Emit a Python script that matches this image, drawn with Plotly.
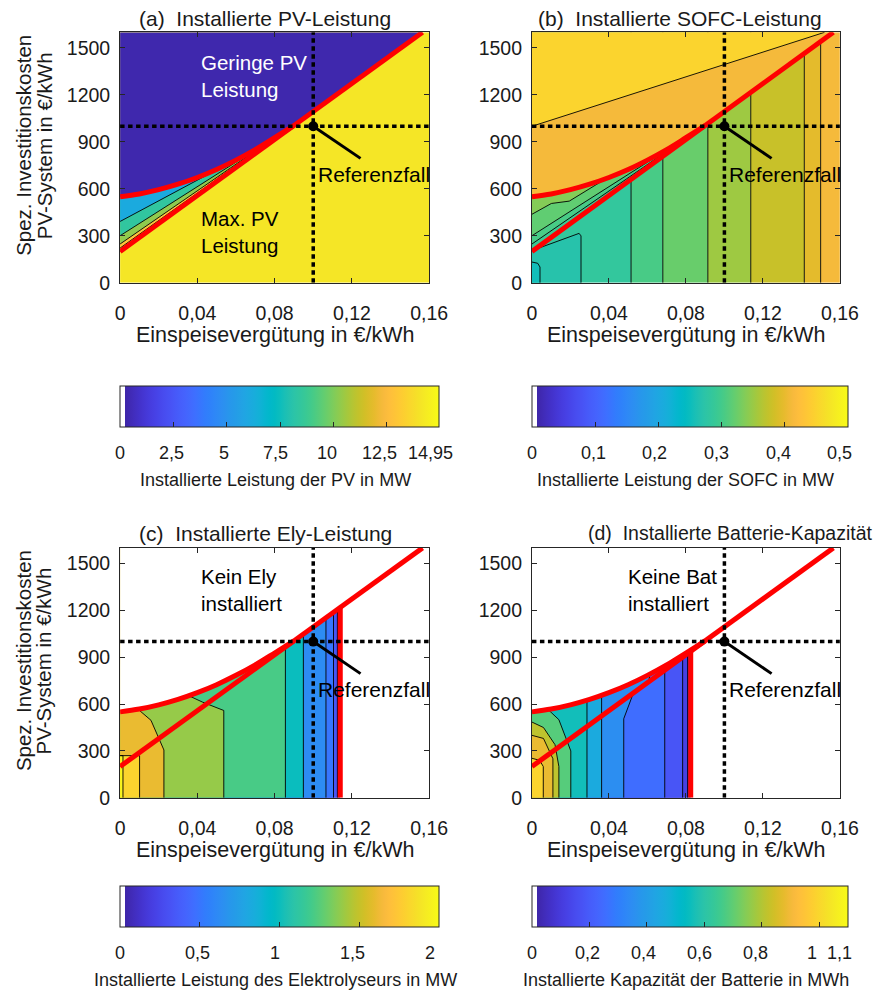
import plotly.graph_objects as go
from plotly.colors import sample_colorscale

W, H = 880, 997
FONT = "Liberation Sans, Arial, sans-serif"
TXT = "#1a1a1a"

# ---------------- data ----------------
X_RANGE = [0, 0.16]
Y_RANGE = [0, 1600]
x_ticks = [0, 0.04, 0.08, 0.12, 0.16]
x_ticktext = ["0", "0,04", "0,08", "0,12", "0,16"]
y_ticks = [0, 300, 600, 900, 1200, 1500]

# red boundary curves
upper_curve_x = [0, 0.01, 0.02, 0.03, 0.04, 0.05, 0.06, 0.07, 0.08, 0.09]
upper_curve_y = [550, 568, 595, 630, 673, 724, 784, 851, 927, 1005]
red_line_x = [0, 0.1566]
red_line_y = [200, 1600]

# reference case
ref_x, ref_y = 0.1, 1000
ref_arrow_x = [0.1, 0.1245]
ref_arrow_y = [1000, 795]

# (a) installed PV power, 0 ... 14.95 MW
pv_max = 14.95
pv_ticks = [0, 2.5, 5, 7.5, 10, 12.5, 14.95]
pv_ticktext = ["0", "2,5", "5", "7,5", "10", "12,5", "14,95"]
pv_high_value = 14.1
pv_low_value = 0.1
pv_wedge_x = [[0, 0.080], [0, 0.079], [0, 0.077], [0, 0.072]]
pv_wedge_y = [[222, 925], [248, 919], [301, 904], [392, 867]]
pv_wedge_values = [12.7, 10.2, 8.3, 6.0]

# (b) installed SOFC power, 0 ... 0.5 MW
sofc_max = 0.5
sofc_ticks = [0, 0.1, 0.2, 0.3, 0.4, 0.5]
sofc_ticktext = ["0", "0,1", "0,2", "0,3", "0,4", "0,5"]
sofc_band_edges = [0, 0.0515, 0.068, 0.0914, 0.1137, 0.1415, 0.150, 0.16]
sofc_band_values = [0.28, 0.30, 0.32, 0.35, 0.375, 0.395, 0.41]
sofc_teal_x = [0, 0.0255, 0.0255, 0.0245, 0]
sofc_teal_y = [0, 0, 300, 316, 206]
sofc_teal_value = 0.265
sofc_corner_x = [0, 0.0042, 0.0042, 0.003, 0]
sofc_corner_y = [0, 0, 101, 125, 133]
sofc_corner_value = 0.25
sofc_wedge_base_value = 0.29
sofc_wedge_x = [[0, 0.072], [0, 0.075], [0, 0.0101, 0.0194, 0.0387]]
sofc_wedge_y = [[248, 857], [301, 888], [438, 507, 522, 667]]
sofc_wedge_values = [0.30, 0.315, 0.335]
sofc_mid_value = 0.41
sofc_top_line_x = [0, 0.149, 0.152]
sofc_top_line_y = [1000, 1586, 1600]
sofc_top_value = 0.45

# (c) installed electrolyser power, 0 ... 2 MW
ely_max = 2.0
ely_ticks = [0, 0.5, 1, 1.5, 2]
ely_ticktext = ["0", "0,5", "1", "1,5", "2"]
ely_limit_x = 0.114
ely_limit_top = 1220
ely_base_value = 0.1
ely_contour_x = [[0.1125, 0.1125], [0.1105, 0.1105], [0.1066, 0.1066],
                 [0.0949, 0.0949], [0.0856, 0.0856],
                 [0.0353, 0.0428, 0.0537, 0.0537],
                 [0.0093, 0.016, 0.0227, 0.0227],
                 [0, 0.0101, 0.0101], [0, 0.0015, 0.0015]]
ely_contour_y = [[1600, 0], [1600, 0], [1600, 0], [1600, 0], [1600, 0],
                 [655, 612, 559, 0], [567, 496, 306, 0],
                 [270, 270, 0], [270, 270, 0]]
ely_contour_values = [0.3, 0.48, 0.6, 0.98, 1.2, 1.38, 1.6, 1.8, 1.97]

# (d) installed battery capacity, 0 ... 1.1 MWh
bat_max = 1.1
bat_ticks = [0, 0.2, 0.4, 0.6, 0.8, 1.0, 1.1]
bat_ticktext = ["0", "0,2", "0,4", "0,6", "0,8", "1", "1,1"]
bat_limit_x = 0.0825
bat_limit_top = 948
bat_base_value = 0.06
bat_contour_x = [[0.0809, 0.0809], [0.0783, 0.0783], [0.069, 0.069],
                 [0.066, 0.0615, 0.0606, 0.0522, 0.0477, 0.0477],
                 [0.0362, 0.0362], [0.0286, 0.0286],
                 [0.0084, 0.014, 0.0202, 0.0202],
                 [0, 0.006, 0.012, 0.014, 0.014],
                 [0, 0.006, 0.0109, 0.0109],
                 [0, 0.004, 0.0059, 0.0059]]
bat_contour_y = [[1600, 0], [1600, 0], [1600, 0],
                 [823, 802, 739, 654, 506, 0],
                 [1600, 0], [1600, 0],
                 [565, 500, 300, 0],
                 [485, 450, 340, 200, 0],
                 [400, 380, 250, 0],
                 [253, 240, 200, 0]]
bat_contour_values = [0.10, 0.165, 0.24, 0.34, 0.44, 0.55, 0.68, 0.81, 0.88, 0.99]

# ---------------- colour map (MATLAB parula) ----------------
PARULA = [
    (0.2422, 0.1504, 0.6603), (0.2504, 0.1650, 0.7076), (0.2578, 0.1818, 0.7511), (0.2647, 0.1978, 0.7952),
    (0.2706, 0.2147, 0.8364), (0.2751, 0.2342, 0.8710), (0.2783, 0.2559, 0.8991), (0.2803, 0.2782, 0.9221),
    (0.2813, 0.3006, 0.9414), (0.2810, 0.3228, 0.9579), (0.2795, 0.3447, 0.9717), (0.2760, 0.3667, 0.9829),
    (0.2699, 0.3892, 0.9906), (0.2602, 0.4123, 0.9952), (0.2440, 0.4358, 0.9988), (0.2206, 0.4603, 0.9973),
    (0.1963, 0.4847, 0.9892), (0.1834, 0.5074, 0.9798), (0.1786, 0.5289, 0.9682), (0.1764, 0.5499, 0.9520),
    (0.1687, 0.5703, 0.9359), (0.1540, 0.5902, 0.9218), (0.1460, 0.6091, 0.9079), (0.1380, 0.6276, 0.8973),
    (0.1248, 0.6459, 0.8883), (0.1113, 0.6635, 0.8763), (0.0952, 0.6798, 0.8598), (0.0689, 0.6948, 0.8394),
    (0.0297, 0.7082, 0.8163), (0.0036, 0.7203, 0.7917), (0.0067, 0.7312, 0.7660), (0.0433, 0.7411, 0.7394),
    (0.0964, 0.7500, 0.7120), (0.1408, 0.7584, 0.6842), (0.1717, 0.7670, 0.6554), (0.1938, 0.7758, 0.6251),
    (0.2161, 0.7843, 0.5923), (0.2470, 0.7918, 0.5567), (0.2906, 0.7973, 0.5188), (0.3406, 0.8008, 0.4789),
    (0.3909, 0.8029, 0.4354), (0.4456, 0.8024, 0.3909), (0.5044, 0.7993, 0.3480), (0.5616, 0.7942, 0.3045),
    (0.6174, 0.7876, 0.2612), (0.6720, 0.7793, 0.2227), (0.7242, 0.7698, 0.1910), (0.7738, 0.7598, 0.1646),
    (0.8203, 0.7498, 0.1535), (0.8634, 0.7406, 0.1596), (0.9035, 0.7330, 0.1774), (0.9393, 0.7288, 0.2100),
    (0.9728, 0.7298, 0.2394), (0.9956, 0.7434, 0.2371), (0.9970, 0.7659, 0.2199), (0.9952, 0.7893, 0.2028),
    (0.9892, 0.8136, 0.1885), (0.9786, 0.8386, 0.1766), (0.9676, 0.8639, 0.1643), (0.9610, 0.8890, 0.1537),
    (0.9597, 0.9135, 0.1423), (0.9628, 0.9373, 0.1265), (0.9691, 0.9606, 0.1064), (0.9769, 0.9839, 0.0805)]
PARULA_CS = [[i / 63, "rgb(%d,%d,%d)" % (round(r * 255), round(g * 255), round(b * 255))]
             for i, (r, g, b) in enumerate(PARULA)]
WHITE_GAP = 0.016
BAR_CS = [[0, "rgb(255,255,255)"], [WHITE_GAP, "rgb(255,255,255)"]] + \
         [[WHITE_GAP + p * (1 - WHITE_GAP), c] for p, c in PARULA_CS]


def cmap(v, vmax):
    return sample_colorscale(PARULA_CS, [min(max(v / vmax, 0), 1)])[0]


# ---------------- layout geometry (pixels) ----------------
FRAMES = {"a": (118.3, 436, 32.7, 286), "b": (541.7, 858.3, 32.7, 286),
          "c": (118.3, 436, 554, 806.7), "d": (541.7, 858.3, 554, 806.7)}
BARS = {"a": (118.3, 437, 390, 431), "b": (541.7, 858, 390, 431),
        "c": (118.3, 437, 896, 937), "d": (541.7, 858, 896, 937)}
AX = {"a": ("x", "y"), "b": ("x2", "y2"), "c": ("x3", "y3"), "d": ("x4", "y4")}
RED = "#ff0000"

fig = go.Figure()


def poly(k, xs, ys, color):
    xa, ya = AX[k]
    fig.add_trace(go.Scatter(x=list(xs) + [xs[0]], y=list(ys) + [ys[0]], mode="none",
                             fill="toself", fillcolor=color, xaxis=xa, yaxis=ya,
                             hoverinfo="skip", showlegend=False))


def cline(k, xs, ys, width=0.9, color="#000000", dash="solid", shape="linear"):
    xa, ya = AX[k]
    fig.add_trace(go.Scatter(x=xs, y=ys, mode="lines",
                             line=dict(color=color, width=width, dash=dash, shape=shape),
                             xaxis=xa, yaxis=ya, hoverinfo="skip", showlegend=False))


def left_region(k, xs, ys, color):
    px, py = list(xs), list(ys)
    if xs[0] > 0:
        px = [xs[0]] + px + [0, 0]
        py = [Y_RANGE[1]] + py + [0, Y_RANGE[1]]
    else:
        px = px + [0]
        py = py + [0]
    poly(k, px, py, color)


def wedge(k, lx, ly, color):
    cx = [x for x in upper_curve_x if x < lx[-1]]
    cy = upper_curve_y[:len(cx)]
    poly(k, list(lx) + cx[::-1], list(ly) + cy[::-1], color)


def above_envelope(k, color):
    poly(k, upper_curve_x + [red_line_x[-1], 0],
         upper_curve_y + [red_line_y[-1], Y_RANGE[1]], color)


def red_bounds(k, limit=None):
    cline(k, red_line_x, red_line_y, 5, RED)
    cline(k, upper_curve_x, upper_curve_y, 5, RED, shape="spline")
    if limit:
        cline(k, [limit[0], limit[0]], [0, limit[1]], 5, RED)


def overlay(k):
    cline(k, [ref_x, ref_x], Y_RANGE, 3.5, "#000000", dash="4.5px,3.5px")
    cline(k, X_RANGE, [ref_y, ref_y], 3.5, "#000000", dash="4.5px,3.5px")
    cline(k, ref_arrow_x, ref_arrow_y, 3, "#000000")
    xa, ya = AX[k]
    fig.add_trace(go.Scatter(x=[ref_x], y=[ref_y], mode="markers",
                             marker=dict(color="#000000", size=10), xaxis=xa, yaxis=ya,
                             hoverinfo="skip", showlegend=False))


# ---------- (a) PV ----------
poly("a", [X_RANGE[0], X_RANGE[1], X_RANGE[1], X_RANGE[0]],
     [Y_RANGE[0], Y_RANGE[0], Y_RANGE[1], Y_RANGE[1]], cmap(pv_high_value, pv_max))
for lx, ly, v in zip(pv_wedge_x, pv_wedge_y, pv_wedge_values):
    wedge("a", lx, ly, cmap(v, pv_max))
for lx, ly in zip(pv_wedge_x, pv_wedge_y):
    cline("a", lx, ly)
above_envelope("a", cmap(pv_low_value, pv_max))
red_bounds("a")
overlay("a")

# ---------- (b) SOFC ----------
for i, v in enumerate(sofc_band_values):
    x0, x1 = sofc_band_edges[i], sofc_band_edges[i + 1]
    poly("b", [x0, x1, x1, x0], [0, 0, Y_RANGE[1], Y_RANGE[1]], cmap(v, sofc_max))
poly("b", sofc_teal_x, sofc_teal_y, cmap(sofc_teal_value, sofc_max))
poly("b", sofc_corner_x, sofc_corner_y, cmap(sofc_corner_value, sofc_max))
for e in sofc_band_edges[1:-1]:
    cline("b", [e, e], Y_RANGE)
cline("b", sofc_teal_x[1:], sofc_teal_y[1:])
cline("b", sofc_corner_x[1:], sofc_corner_y[1:])
poly("b", upper_curve_x + [red_line_x[0]], upper_curve_y + [red_line_y[0]],
     cmap(sofc_wedge_base_value, sofc_max))
for lx, ly, v in zip(sofc_wedge_x, sofc_wedge_y, sofc_wedge_values):
    wedge("b", lx, ly, cmap(v, sofc_max))
for lx, ly in zip(sofc_wedge_x, sofc_wedge_y):
    cline("b", lx, ly)
above_envelope("b", cmap(sofc_mid_value, sofc_max))
poly("b", sofc_top_line_x + [0], sofc_top_line_y + [Y_RANGE[1]], cmap(sofc_top_value, sofc_max))
cline("b", sofc_top_line_x, sofc_top_line_y)
red_bounds("b")
overlay("b")

# ---------- (c) Electrolyser ----------
poly("c", [0, ely_limit_x, ely_limit_x, 0], [0, 0, Y_RANGE[1], Y_RANGE[1]],
     cmap(ely_base_value, ely_max))
for lx, ly, v in zip(ely_contour_x, ely_contour_y, ely_contour_values):
    left_region("c", lx, ly, cmap(v, ely_max))
for lx, ly in zip(ely_contour_x, ely_contour_y):
    cline("c", lx, ly)
above_envelope("c", "#ffffff")
poly("c", [ely_limit_x, X_RANGE[1], X_RANGE[1], ely_limit_x], [0, 0, Y_RANGE[1], Y_RANGE[1]], "#ffffff")
red_bounds("c", (ely_limit_x, ely_limit_top))
overlay("c")

# ---------- (d) Battery ----------
poly("d", [0, bat_limit_x, bat_limit_x, 0], [0, 0, Y_RANGE[1], Y_RANGE[1]],
     cmap(bat_base_value, bat_max))
for lx, ly, v in zip(bat_contour_x, bat_contour_y, bat_contour_values):
    left_region("d", lx, ly, cmap(v, bat_max))
for lx, ly in zip(bat_contour_x, bat_contour_y):
    cline("d", lx, ly)
above_envelope("d", "#ffffff")
poly("d", [bat_limit_x, X_RANGE[1], X_RANGE[1], bat_limit_x], [0, 0, Y_RANGE[1], Y_RANGE[1]], "#ffffff")
red_bounds("d", (bat_limit_x, bat_limit_top))
overlay("d")

# ---------- colour bars ----------
ann = []
bar_specs = {"a": (pv_max, pv_ticks, pv_ticktext),
             "b": (sofc_max, sofc_ticks, sofc_ticktext),
             "c": (ely_max, ely_ticks, ely_ticktext),
             "d": (bat_max, bat_ticks, bat_ticktext)}
for k, (vmax, tv, tt) in bar_specs.items():
    x0, x1, y0, y1 = BARS[k]
    xa, ya = AX[k]
    fig.add_trace(go.Scatter(
        x=[None], y=[None], mode="markers", xaxis=xa, yaxis=ya, showlegend=False,
        hoverinfo="skip",
        marker=dict(color=[0], cmin=0, cmax=vmax, colorscale=BAR_CS, showscale=True,
                    colorbar=dict(orientation="h", x=x0 / W, xanchor="left",
                                  y=1 - y0 / H, yanchor="top", len=x1 - x0, lenmode="pixels",
                                  thickness=y1 - y0, thicknessmode="pixels", xpad=0, ypad=0,
                                  outlinecolor="#262626", outlinewidth=1,
                                  tickmode="array", tickvals=tv, ticktext=tt,
                                  showticklabels=False,
                                  ticks="inside", ticklen=5, tickcolor="#262626"))))
    # tick labels of the colour bar
    for v, t in zip(tv, tt):
        px = x0 + (x1 - x0) * v / vmax
        ann.append(dict(text=t, x=px / W, y=1 - (y1 + 27) / H, xref="paper", yref="paper",
                        xanchor="center", yanchor="middle", showarrow=False,
                        font=dict(family=FONT, size=18, color=TXT)))

# ---------- axes ----------
layout_axes = {}
for k, (x0, x1, y0, y1) in FRAMES.items():
    xa, ya = AX[k]
    xname = "xaxis" + xa[1:]
    yname = "yaxis" + ya[1:]
    common = dict(showgrid=False, zeroline=False, showline=True, linecolor="#262626",
                  linewidth=1, mirror="ticks", ticks="inside", ticklen=5,
                  tickcolor="#262626", tickfont=dict(family=FONT, size=19.5, color=TXT))
    layout_axes[xname] = dict(domain=[x0 / W, x1 / W], anchor=ya, range=X_RANGE,
                              tickmode="array", tickvals=x_ticks, ticktext=x_ticktext,
                              ticklabelstandoff=13, **common)
    layout_axes[yname] = dict(domain=[1 - y1 / H, 1 - y0 / H], anchor=xa, range=Y_RANGE,
                              tickmode="array", tickvals=y_ticks,
                              ticktext=[str(v) for v in y_ticks],
                              ticklabelstandoff=5, **common)

titles = {"a": ("(a)  Installierte PV-Leistung", 136, 19, 21),
          "b": ("(b)  Installierte SOFC-Leistung", 546, 19, 21),
          "c": ("(c)  Installierte Ely-Leistung", 136, 539, 21),
          "d": ("(d)  Installierte Batterie-Kapazität", 597, 539, 19.5)}
for k, (t, px, py, fs) in titles.items():
    ann.append(dict(text=t, x=px / W, y=1 - py / H, xref="paper", yref="paper",
                    xanchor="left", yanchor="middle", showarrow=False,
                    font=dict(family=FONT, size=fs, color=TXT)))
for k, (x0, x1, y0, y1) in FRAMES.items():
    ann.append(dict(text="Einspeisevergütung in €/kWh", x=(x0 + x1) / 2 / W,
                    y=1 - (y1 + 53) / H, xref="paper", yref="paper", xanchor="center",
                    yanchor="middle", showarrow=False, font=dict(family=FONT, size=21.5, color=TXT)))
for py in (147, 668):
    for line, px in (("Spez. Investitionskosten", 19), ("PV-System in €/kWh", 40)):
        ann.append(dict(text=line, x=px / W, y=1 - py / H, xref="paper", yref="paper",
                        xanchor="center", yanchor="middle", textangle=-90, showarrow=False,
                        font=dict(family=FONT, size=20.5, color=TXT)))
bar_titles = {"a": "Installierte Leistung der PV in MW",
              "b": "Installierte Leistung der SOFC in MW",
              "c": "Installierte Leistung des Elektrolyseurs in MW",
              "d": "Installierte Kapazität der Batterie in MWh"}
for k, t in bar_titles.items():
    x0, x1, y0, y1 = BARS[k]
    ann.append(dict(text=t, x=(x0 + x1) / 2 / W, y=1 - (y1 + 54) / H, xref="paper",
                    yref="paper", xanchor="center", yanchor="middle", showarrow=False,
                    font=dict(family=FONT, size=18, color=TXT)))
# in-plot labels
for k in "abcd":
    xa, ya = AX[k]
    ann.append(dict(text="Referenzfall", x=0.1015, y=693, xref=xa, yref=ya, xanchor="left",
                    yanchor="middle", showarrow=False, font=dict(family=FONT, size=21, color="#000000")))
in_labels = [("a", "Geringe PV<br>Leistung", 0.0408, 1322, "#ffffff"),
             ("a", "Max. PV<br>Leistung", 0.0408, 322, "#000000"),
             ("c", "Kein Ely<br>installiert", 0.0408, 1330, "#000000"),
             ("d", "Keine Bat<br>installiert", 0.0488, 1330, "#000000")]
for k, t, x, y, c in in_labels:
    xa, ya = AX[k]
    ann.append(dict(text=t, x=x, y=y, xref=xa, yref=ya, xanchor="left", yanchor="middle",
                    align="left", showarrow=False, font=dict(family=FONT, size=20.5, color=c)))

fig.update_layout(width=W, height=H, margin=dict(l=0, r=0, t=0, b=0),
                  paper_bgcolor="#ffffff", plot_bgcolor="#ffffff",
                  showlegend=False, annotations=ann, **layout_axes)
fig.write_html("out.html")
